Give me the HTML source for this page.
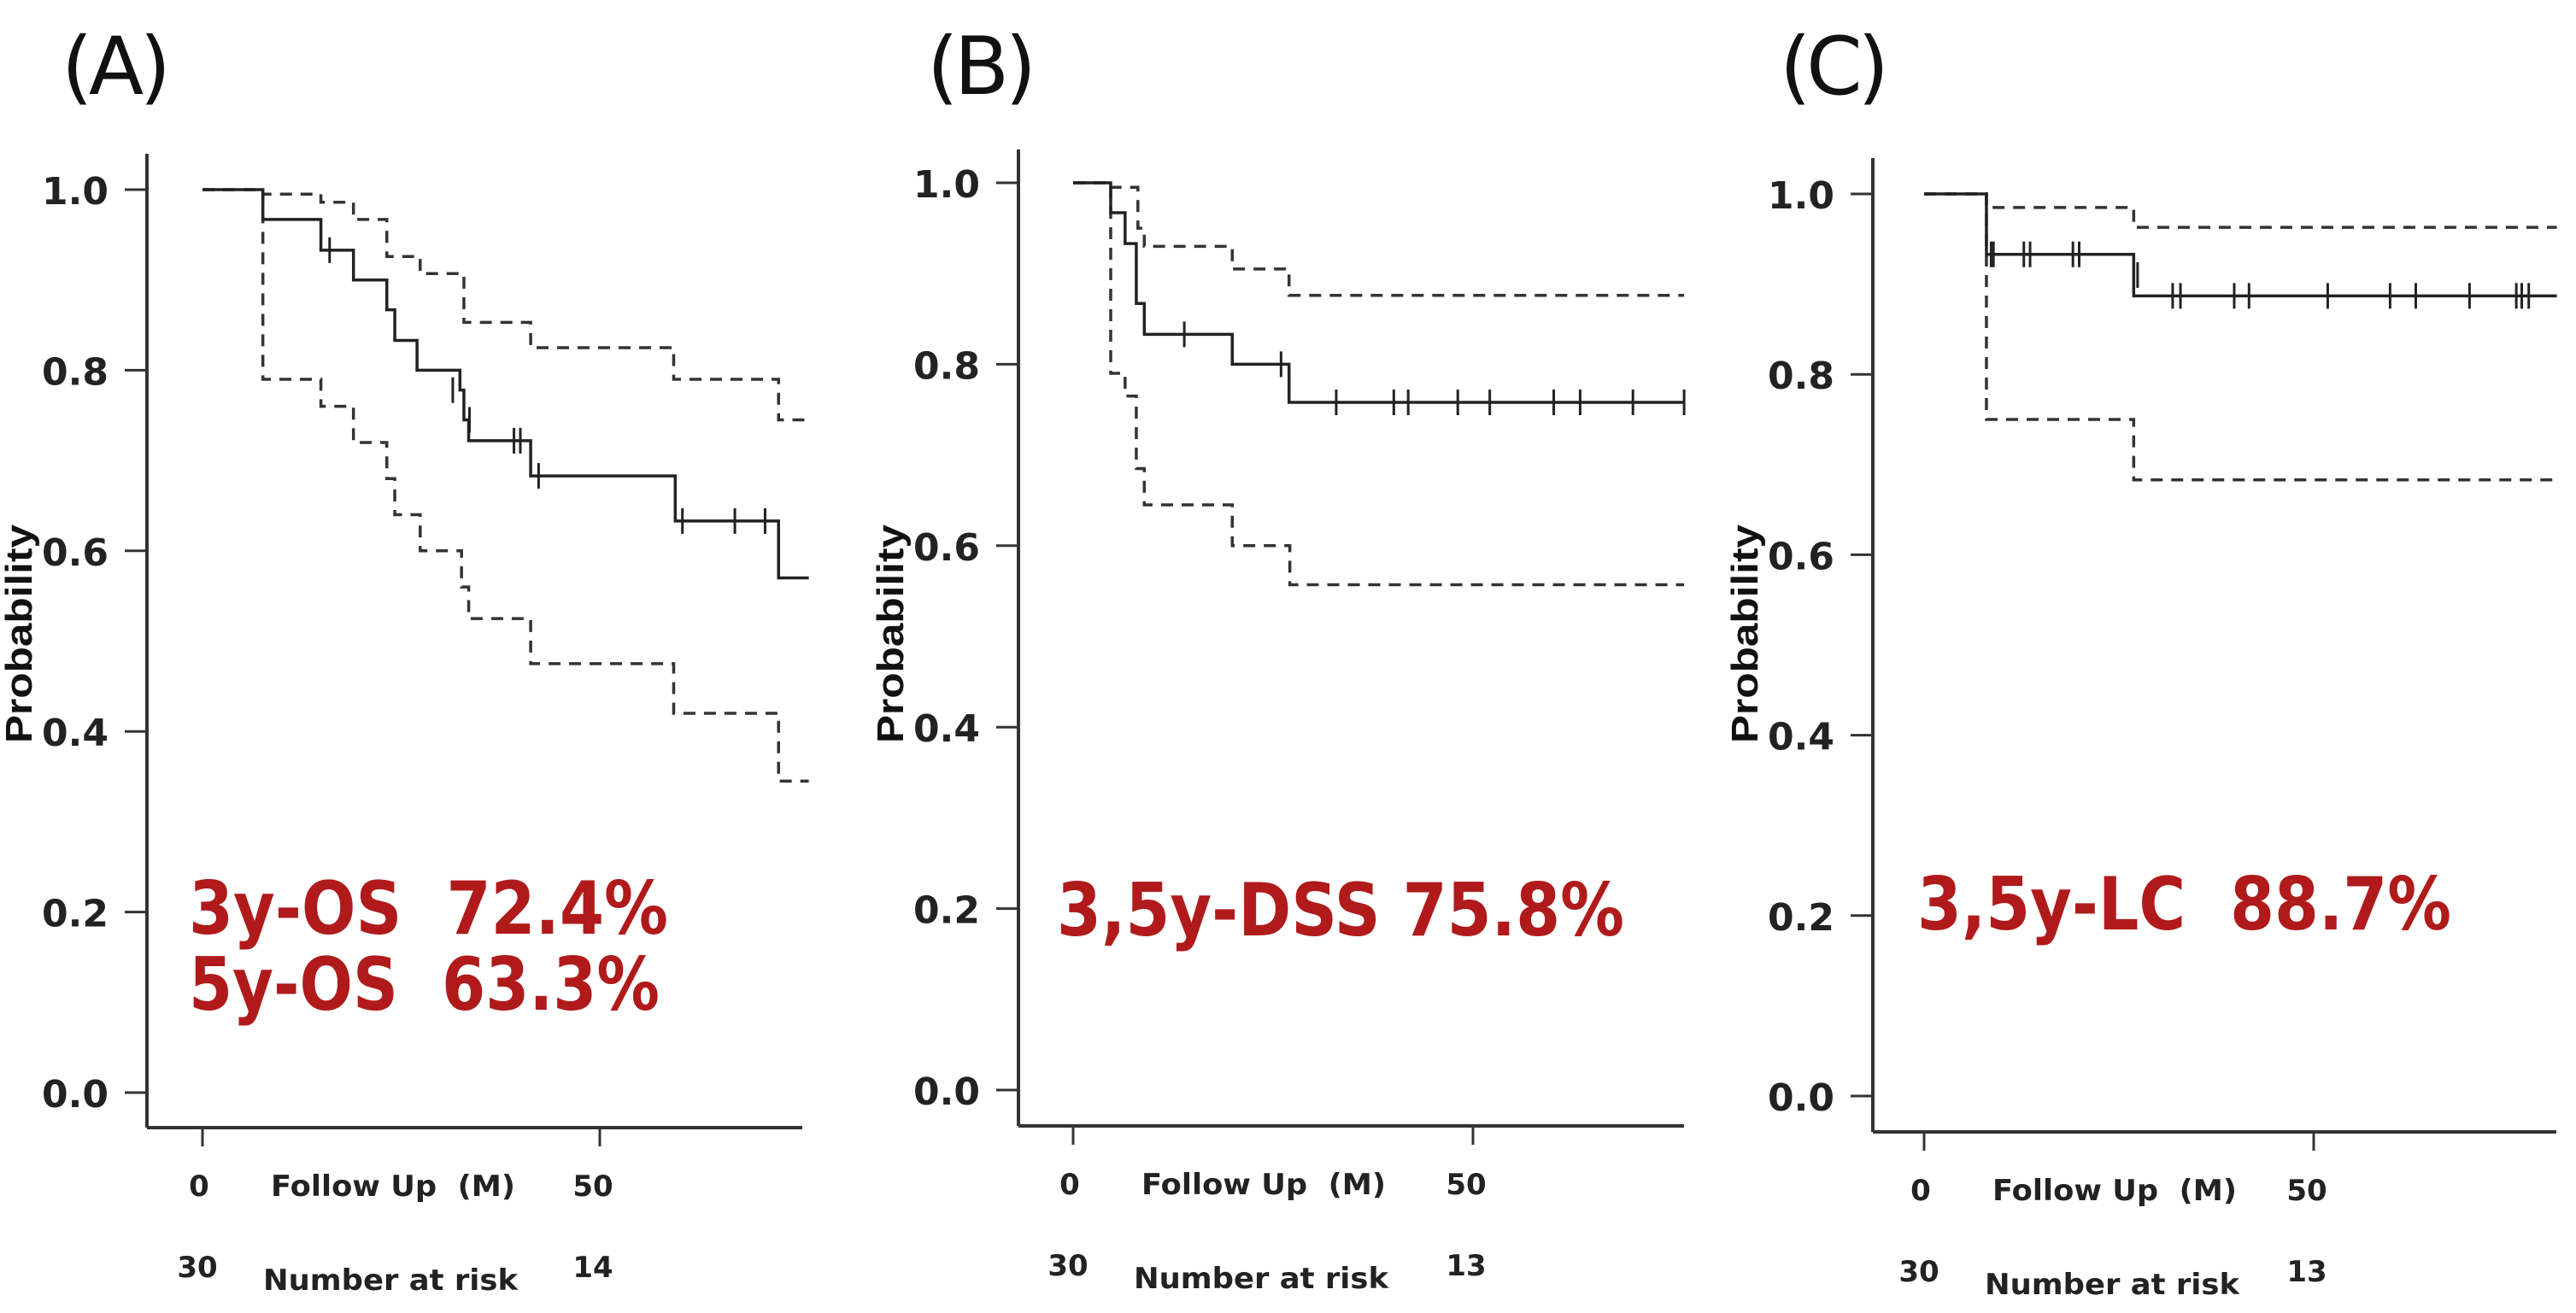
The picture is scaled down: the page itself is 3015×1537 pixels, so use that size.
<!DOCTYPE html>
<html><head><meta charset="utf-8">
<style>
html,body{margin:0;padding:0;background:#fff;}
svg{display:block;}
text{white-space:pre;}
</style></head>
<body>
<svg id="fig" width="3015" height="1537" viewBox="0 0 3015 1537" xmlns="http://www.w3.org/2000/svg" xml:space="preserve"></svg>
<script>
// ---- Data (months, probability) ----
const yTicks = [0.0, 0.2, 0.4, 0.6, 0.8, 1.0];
const yTickLabels = ["0.0", "0.2", "0.4", "0.6", "0.8", "1.0"];
const xTicks = [0, 50];
const xTickLabels = ["0", "50"];

const aMainT = [0, 7.6, 14.9, 19.0, 23.2, 24.2, 27.0, 32.4, 32.9, 33.5, 41.3, 59.5, 72.5];
const aMainS = [1, 0.967, 0.933, 0.9, 0.867, 0.833, 0.8, 0.778, 0.745, 0.722, 0.683, 0.633, 0.57];
const aUpT = [0, 7.6, 14.9, 19.0, 23.2, 27.4, 32.9, 41.3, 59.3, 72.5];
const aUpS = [1, 0.995, 0.986, 0.967, 0.926, 0.907, 0.853, 0.825, 0.79, 0.745];
const aLoT = [0, 7.6, 14.9, 19.0, 23.2, 24.2, 27.4, 32.6, 33.5, 41.3, 59.3, 72.5];
const aLoS = [1, 0.79, 0.76, 0.72, 0.68, 0.64, 0.6, 0.56, 0.525, 0.475, 0.42, 0.345];
const aCensT = [16.0, 31.5, 33.6, 39.2, 40.0, 42.3, 60.4, 67.0, 70.8];
const aCensS = [0.933, 0.778, 0.745, 0.722, 0.722, 0.683, 0.633, 0.633, 0.633];
const aEnd = 76.3;

const bMainT = [0, 4.7, 6.5, 7.9, 8.9, 19.9, 27.0];
const bMainS = [1, 0.967, 0.933, 0.867, 0.833, 0.8, 0.758];
const bUpT = [0, 4.7, 8.1, 8.9, 19.9, 27.0];
const bUpS = [1, 0.995, 0.95, 0.93, 0.905, 0.876];
const bLoT = [0, 4.7, 6.5, 7.9, 8.9, 19.9, 27.1];
const bLoS = [1, 0.79, 0.765, 0.685, 0.645, 0.6, 0.557];
const bCensT = [7.9, 13.9, 26.0, 27.0, 32.9, 40.1, 41.9, 48.1, 52.1, 60.1, 63.4, 70.0, 76.4];
const bCensS = [0.9, 0.833, 0.8, 0.778, 0.758, 0.758, 0.758, 0.758, 0.758, 0.758, 0.758, 0.758, 0.758];
const bEnd = 76.4;

const cMainT = [0, 8.0, 26.9];
const cMainS = [1, 0.933, 0.887];
const cUpT = [0, 8.0, 26.9];
const cUpS = [1, 0.985, 0.963];
const cLoT = [0, 8.0, 26.9];
const cLoS = [1, 0.75, 0.683];
const cCensT = [8.0, 8.6, 8.9, 12.8, 13.6, 19.1, 19.9, 27.4, 31.9, 32.9, 39.8, 41.7, 51.8, 59.8, 63.1, 70.0, 76.0, 76.7, 77.6];
const cCensS = [0.967, 0.933, 0.933, 0.933, 0.933, 0.933, 0.933, 0.91, 0.887, 0.887, 0.887, 0.887, 0.887, 0.887, 0.887, 0.887, 0.887, 0.887, 0.887];
const cEnd = 81.2;

const panelLetters = ["(A)", "(B)", "(C)"];
const riskStart = ["30", "30", "30"];
const riskAt50 = ["14", "13", "13"];

// ---- Layout (pixels) ----
const panels = [
  {key:"a", letter:[72,110], axisX:172, axisTop:180, axisY:1320, y1:222, y0:1279, x0:237, x50:702, xEnd:939,
   mainT:aMainT, mainS:aMainS, upT:aUpT, upS:aUpS, loT:aLoT, loS:aLoS, cT:aCensT, cS:aCensS, end:aEnd,
   texts:[["3y-OS  72.4%",221,1093,561],["5y-OS  63.3%",221,1182,551]]},
  {key:"b", letter:[1085,110], axisX:1192, axisTop:175, axisY:1318, y1:214, y0:1276, x0:1256, x50:1724, xEnd:1971,
   mainT:bMainT, mainS:bMainS, upT:bUpT, upS:bUpS, loT:bLoT, loS:bLoS, cT:bCensT, cS:bCensS, end:bEnd,
   texts:[["3,5y-DSS 75.8%",1237,1095,664]]},
  {key:"c", letter:[2083,110], axisX:2192, axisTop:185, axisY:1325, y1:227, y0:1283, x0:2252, x50:2708, xEnd:2992,
   mainT:cMainT, mainS:cMainS, upT:cUpT, upS:cUpS, loT:cLoT, loS:cLoS, cT:cCensT, cS:cCensS, end:cEnd,
   texts:[["3,5y-LC  88.7%",2244,1088,625]]}
];

const NS = "http://www.w3.org/2000/svg";
const svg = document.getElementById("fig");
function mk(tag, attrs, parent){
  const e = document.createElementNS(NS, tag);
  for (const k in attrs) e.setAttribute(k, attrs[k]);
  (parent||svg).appendChild(e);
  return e;
}
function stepPath(T, S, end, xs, ys){
  let d = "M" + xs(T[0]) + "," + ys(S[0]);
  for (let i = 1; i < T.length; i++){
    d += " H" + xs(T[i]) + " V" + ys(S[i]);
  }
  d += " H" + xs(end);
  return d;
}

panels.forEach((p, idx) => {
  const g = mk("g", {});
  
  
  const xs = t => p.x0 + (p.x50 - p.x0) * t / 50;
  const ys = v => p.y0 + (p.y1 - p.y0) * v;

  const lt = mk("text", {x:p.letter[0], y:p.letter[1], "font-family":"DejaVu Sans, sans-serif", "font-size":"94", textLength:"128", lengthAdjust:"spacing", fill:"#111"}, g);
  lt.textContent = panelLetters[idx];
  
  

  const ya = mk("line", {x1:p.axisX, y1:p.axisTop, x2:p.axisX, y2:p.axisY, stroke:"#333", "stroke-width":4}, g);
  
  
  const xa = mk("line", {x1:p.axisX, y1:p.axisY, x2:p.xEnd, y2:p.axisY, stroke:"#333", "stroke-width":4}, g);
  
  

  yTicks.forEach((v, i) => {
    const tk = mk("line", {x1:p.axisX-26, y1:ys(v), x2:p.axisX, y2:ys(v), stroke:"#333", "stroke-width":3}, g);
    
    
    const tl = mk("text", {x:p.axisX-45, y:ys(v)+17, "text-anchor":"end", "font-family":"DejaVu Sans, sans-serif", "font-weight":"bold", "font-size":"44", fill:"#222"}, g);
    tl.textContent = yTickLabels[i];
    
    
  });
  xTicks.forEach((t, i) => {
    const tk = mk("line", {x1:xs(t), y1:p.axisY, x2:xs(t), y2:p.axisY+22, stroke:"#333", "stroke-width":3}, g);
    
    
    const tl = mk("text", {x:xs(t)-(t?8:4), y:p.axisY+80, "text-anchor":"middle", "font-family":"DejaVu Sans, sans-serif", "font-weight":"bold", "font-size":"34", fill:"#222"}, g);
    tl.textContent = xTickLabels[i];
    
    
  });

  const yt = mk("text", {transform:"translate(" + (p.axisX-135) + ",742) rotate(-90)", "text-anchor":"middle", "font-family":"Liberation Sans, sans-serif", "font-weight":"bold", "font-size":"44", textLength:"256", lengthAdjust:"spacingAndGlyphs", fill:"#111"}, g);
  yt.textContent = "Probability";
  
  

  const xt = mk("text", {x:xs(0)+80, y:p.axisY+80, "font-family":"DejaVu Sans, sans-serif", "font-weight":"bold", "font-size":"34", textLength:"286", lengthAdjust:"spacingAndGlyphs", fill:"#222"}, g);
  xt.textContent = "Follow Up  (M)";
  
  

  const r0 = mk("text", {x:xs(0)-6, y:p.axisY+175, "text-anchor":"middle", "font-family":"DejaVu Sans, sans-serif", "font-weight":"bold", "font-size":"34", fill:"#222"}, g);
  r0.textContent = riskStart[idx];
  
  
  const rl = mk("text", {x:xs(0)+71, y:p.axisY+190, "font-family":"DejaVu Sans, sans-serif", "font-weight":"bold", "font-size":"34", textLength:"298", lengthAdjust:"spacingAndGlyphs", fill:"#222"}, g);
  rl.textContent = "Number at risk";
  
  
  const r50 = mk("text", {x:xs(50)-8, y:p.axisY+175, "text-anchor":"middle", "font-family":"DejaVu Sans, sans-serif", "font-weight":"bold", "font-size":"34", fill:"#222"}, g);
  r50.textContent = riskAt50[idx];
  
  

  const up = mk("path", {d:stepPath(p.upT, p.upS, p.end, xs, ys), fill:"none", stroke:"#333", "stroke-width":3.5, "stroke-dasharray":"14 10"}, g);
  
  
  const lo = mk("path", {d:stepPath(p.loT, p.loS, p.end, xs, ys), fill:"none", stroke:"#333", "stroke-width":3.5, "stroke-dasharray":"14 10"}, g);
  
  
  const mn = mk("path", {d:stepPath(p.mainT, p.mainS, p.end, xs, ys), fill:"none", stroke:"#222", "stroke-width":3.5}, g);
  
  

  p.cT.forEach((t, i) => {
    const c = mk("line", {x1:xs(t), y1:ys(p.cS[i])-15, x2:xs(t), y2:ys(p.cS[i])+15, stroke:"#222", "stroke-width":3}, g);
    
    
  });

  p.texts.forEach(tx => {
    const t = mk("text", {x:tx[1], y:tx[2], "font-family":"DejaVu Sans, sans-serif", "font-weight":"bold", "font-size":"86", textLength:tx[3], lengthAdjust:"spacingAndGlyphs", fill:"#b01a1a"}, g);
    t.textContent = tx[0].replace(/  /g, "\u00a0\u00a0");
    
    
  });
});
</script>
</body></html>
